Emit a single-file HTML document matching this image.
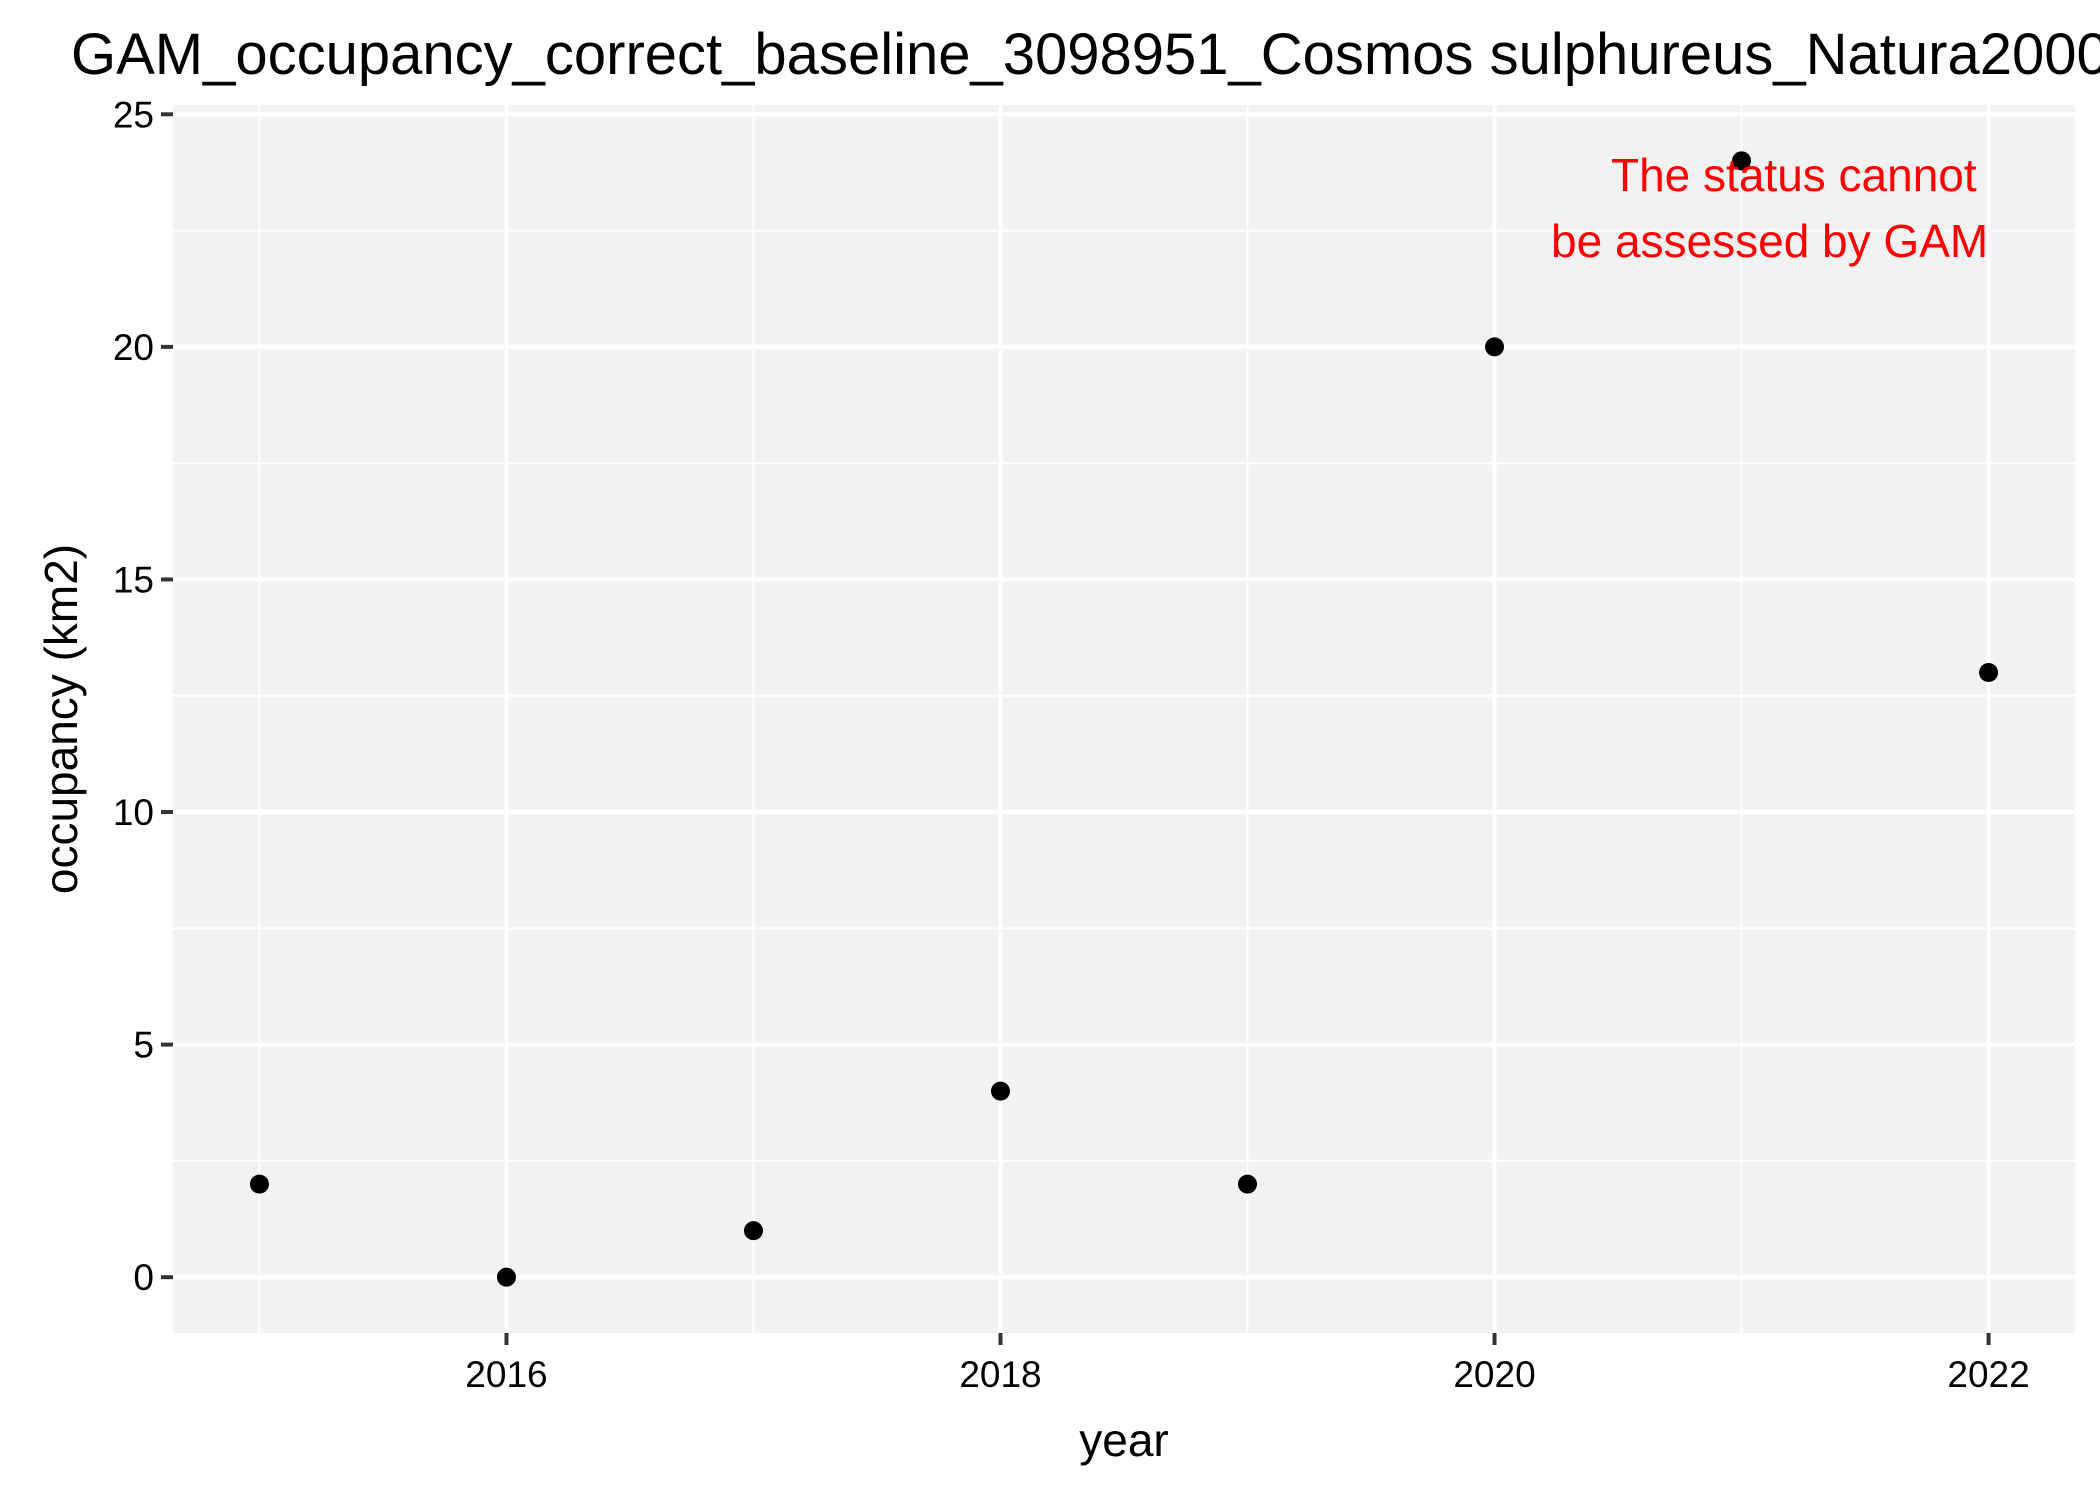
<!DOCTYPE html>
<html><head><meta charset="utf-8"><style>
html,body{margin:0;padding:0;background:#fff;}
svg{display:block;font-family:"Liberation Sans",Arial,sans-serif;}
</style></head><body>
<svg id="chart" width="2100" height="1499" viewBox="0 0 2100 1499" xmlns="http://www.w3.org/2000/svg">
<text x="71" y="74" font-size="58" fill="#000">GAM_occupancy_correct_baseline_3098951_Cosmos sulphureus_Natura2000</text>
<rect x="173" y="105" width="1902" height="1228" fill="#f2f2f2"/>
<g id="grid"></g>
<g id="axes"></g>
<g id="points"></g>
<text x="1611" y="191" font-size="46" fill="#ff0000">The status cannot</text>
<text x="1551" y="257" font-size="46" fill="#ff0000">be assessed by GAM</text>
<text x="1124" y="1456" font-size="46" text-anchor="middle">year</text>
<text x="0" y="0" font-size="46" text-anchor="middle" transform="translate(77,719) rotate(-90)">occupancy (km2)</text>
</svg>
<script>
const years = [2015, 2016, 2017, 2018, 2019, 2020, 2021, 2022];
const occupancy = [2, 0, 1, 4, 2, 20, 24, 13];
const xTicks = [2016, 2018, 2020, 2022];
const xMinor = [2015, 2017, 2019, 2021];
const yTicks = [0, 5, 10, 15, 20, 25];
const yMinor = [2.5, 7.5, 12.5, 17.5, 22.5];

const NS = "http://www.w3.org/2000/svg";
const L = 173, R = 2075, T = 105, B = 1333;
const xMin = 2014.65, xMax = 2022.35, yMin = -1.2, yMax = 25.2;
function xs(v){ return L + (v - xMin) / (xMax - xMin) * (R - L); }
function ys(v){ return B - (v - yMin) / (yMax - yMin) * (B - T); }
function mk(tag, attrs, parent){
  const e = document.createElementNS(NS, tag);
  for (const k in attrs) e.setAttribute(k, attrs[k]);
  parent.appendChild(e); return e;
}
const grid = document.getElementById('grid');
const axes = document.getElementById('axes');
const pts = document.getElementById('points');

yMinor.forEach(v => {
  const l = mk('line', {x1:L, x2:R, y1:ys(v), y2:ys(v), stroke:'#fff', 'stroke-width':2}, grid);
  
  
});
xMinor.forEach(v => {
  const l = mk('line', {x1:xs(v), x2:xs(v), y1:T, y2:B, stroke:'#fff', 'stroke-width':2}, grid);
  
  
});
yTicks.forEach(v => {
  const y = ys(v);
  const l = mk('line', {x1:L, x2:R, y1:y, y2:y, stroke:'#fff', 'stroke-width':4}, grid);
  
  
  const t = mk('line', {x1:L-12, x2:L, y1:y, y2:y, stroke:'#333', 'stroke-width':4}, axes);
  
  
  const tx = mk('text', {x:L-19, y:y+13, 'font-size':37, 'text-anchor':'end', fill:'#000'}, axes);
  tx.textContent = v;
  
  
});
xTicks.forEach(v => {
  const x = xs(v);
  const l = mk('line', {x1:x, x2:x, y1:T, y2:B, stroke:'#fff', 'stroke-width':4}, grid);
  
  
  const t = mk('line', {x1:x, x2:x, y1:B, y2:B+12, stroke:'#333', 'stroke-width':4}, axes);
  
  
  const tx = mk('text', {x:x, y:1387, 'font-size':37, 'text-anchor':'middle', fill:'#000'}, axes);
  tx.textContent = v;
  
  
});
years.forEach((yr, i) => {
  const c = mk('circle', {cx:xs(yr), cy:ys(occupancy[i]), r:9.5, fill:'#000'}, pts);
  
  
});
</script>
</body></html>
